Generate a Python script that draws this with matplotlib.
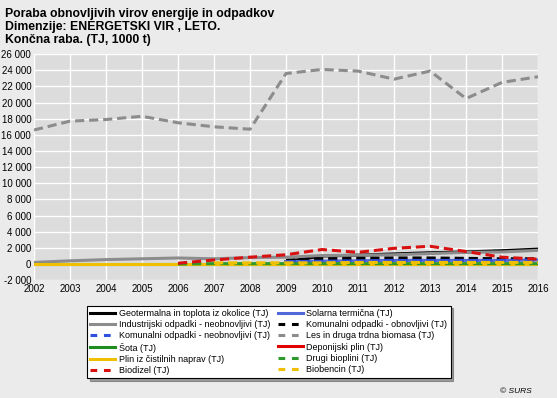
#!/usr/bin/env python3
"""Poraba obnovljivih virov energije in odpadkov (SURS), 2002-2016."""

import matplotlib.pyplot as plt
import numpy as np
from matplotlib.lines import Line2D
from matplotlib.ticker import FuncFormatter

nan = np.nan

years = list(range(2002, 2017))

geotermalna = [nan] * 7 + [300, 1000, 1100, 1250, 1400, 1500, 1650, 1850]
solarna = [nan] * 7 + [300, 350, 400, 450, 450, 450, 450, 500]
industrijski = [200, 400, 550, 650, 750, 650, 800, 850, 1050, 1100, 1150, 1300, 1450, 1500, 1700]
komunalni_obn = [nan] * 7 + [450, 650, 700, 750, 750, 700, 650, 650]
komunalni_neobn = [nan] * 7 + [300, 350, 400, 450, 450, 450, 450, 500]
les_biomasa = [16600, 17700, 17900, 18300, 17500, 17000, 16700, 23600, 24100,
               23900, 22900, 23900, 20500, 22500, 23200]
sota = [0] * 15
deponijski = [nan] * 15
plin_cistilne = [30] * 15
drugi_bioplini = [nan] * 4 + [0, 50, 50, 50, 50, 50, 50, 50, 50, 50, 50]
biodizel = [nan] * 4 + [100, 500, 850, 1150, 1800, 1450, 1950, 2200, 1550, 850, 600]
biobencin = [nan] * 5 + [150, 150, 150, 150, 200, 200, 200, 200, 200, 200]

labels = [
    "Geotermalna in toplota iz okolice (TJ)",
    "Solarna termična (TJ)",
    "Industrijski odpadki - neobnovljivi (TJ)",
    "Komunalni odpadki - obnovljivi (TJ)",
    "Komunalni odpadki - neobnovljivi (TJ)",
    "Les in druga trdna biomasa (TJ)",
    "Šota (TJ)",
    "Deponijski plin (TJ)",
    "Plin iz čistilnih naprav (TJ)",
    "Drugi bioplini (TJ)",
    "Biodizel (TJ)",
    "Biobencin (TJ)",
]
series = [geotermalna, solarna, industrijski, komunalni_obn, komunalni_neobn,
          les_biomasa, sota, deponijski, plin_cistilne, drugi_bioplini,
          biodizel, biobencin]
colors = ["#000000", "#5068d8", "#8c8c8c", "#000000", "#3050e0", "#8c8c8c",
          "#1e8c1e", "#e00000", "#f0c000", "#2e9a2e", "#d81010", "#f0c000"]
dashed = [False, False, False, True, True, True,
          False, False, False, True, True, True]

plt.rcParams["font.family"] = ["Liberation Sans", "DejaVu Sans"]

fig = plt.figure(figsize=(5.57, 3.98), dpi=100, facecolor="#ebebeb")
ax = fig.add_axes([0.061, 0.296, 0.905, 0.568])
ax.set_facecolor("#dcdcdc")

handles = []
for vals, lab, col, dsh in zip(series, labels, colors, dashed):
    ls = (0, (3, 1.6)) if dsh else "-"
    ax.plot(years, vals, color=col, lw=2.2, ls=ls, label=lab)
    handles.append(Line2D([], [], color=col, lw=2.2,
                          ls=(0, (2.2, 2.2)) if dsh else "-"))

ax.set_xlim(2002, 2016)
ax.set_ylim(-2000, 26000)
ax.set_xticks(years)
ax.set_yticks(range(-2000, 26001, 2000))
ax.yaxis.set_major_formatter(FuncFormatter(lambda v, p: f"{int(v):,}".replace(",", " ")))
ax.tick_params(length=0, labelsize=7, pad=2)
ax.tick_params(axis="x", pad=3)
ax.grid(True, color="white", lw=1.0)
ax.set_axisbelow(True)
for s in ax.spines.values():
    s.set_visible(False)

fig.text(0.009, 0.98, "Poraba obnovljivih virov energije in odpadkov\n"
         "Dimenzije: ENERGETSKI VIR , LETO.\nKončna raba. (TJ, 1000 t)",
         ha="left", va="top", fontsize=8.8, fontweight="bold", linespacing=1.12)

# legend is filled column-wise, so reorder to keep the row-wise reading order
order = list(range(0, 12, 2)) + list(range(1, 12, 2))
leg = fig.legend([handles[i] for i in order], [labels[i] for i in order],
                 ncol=2, loc="upper left", bbox_to_anchor=(0.156, 0.232),
                 fontsize=6.5, frameon=True, fancybox=False, shadow=True,
                 edgecolor="black", handlelength=2.8, handletextpad=0.4,
                 columnspacing=0.8, labelspacing=0.25, borderpad=0.35,
                 borderaxespad=0)
leg.get_frame().set_linewidth(0.8)

fig.text(0.955, 0.008, "© SURS", ha="right", va="bottom", fontsize=6, style="italic")

fig.savefig("out.png", dpi=100, facecolor=fig.get_facecolor())
